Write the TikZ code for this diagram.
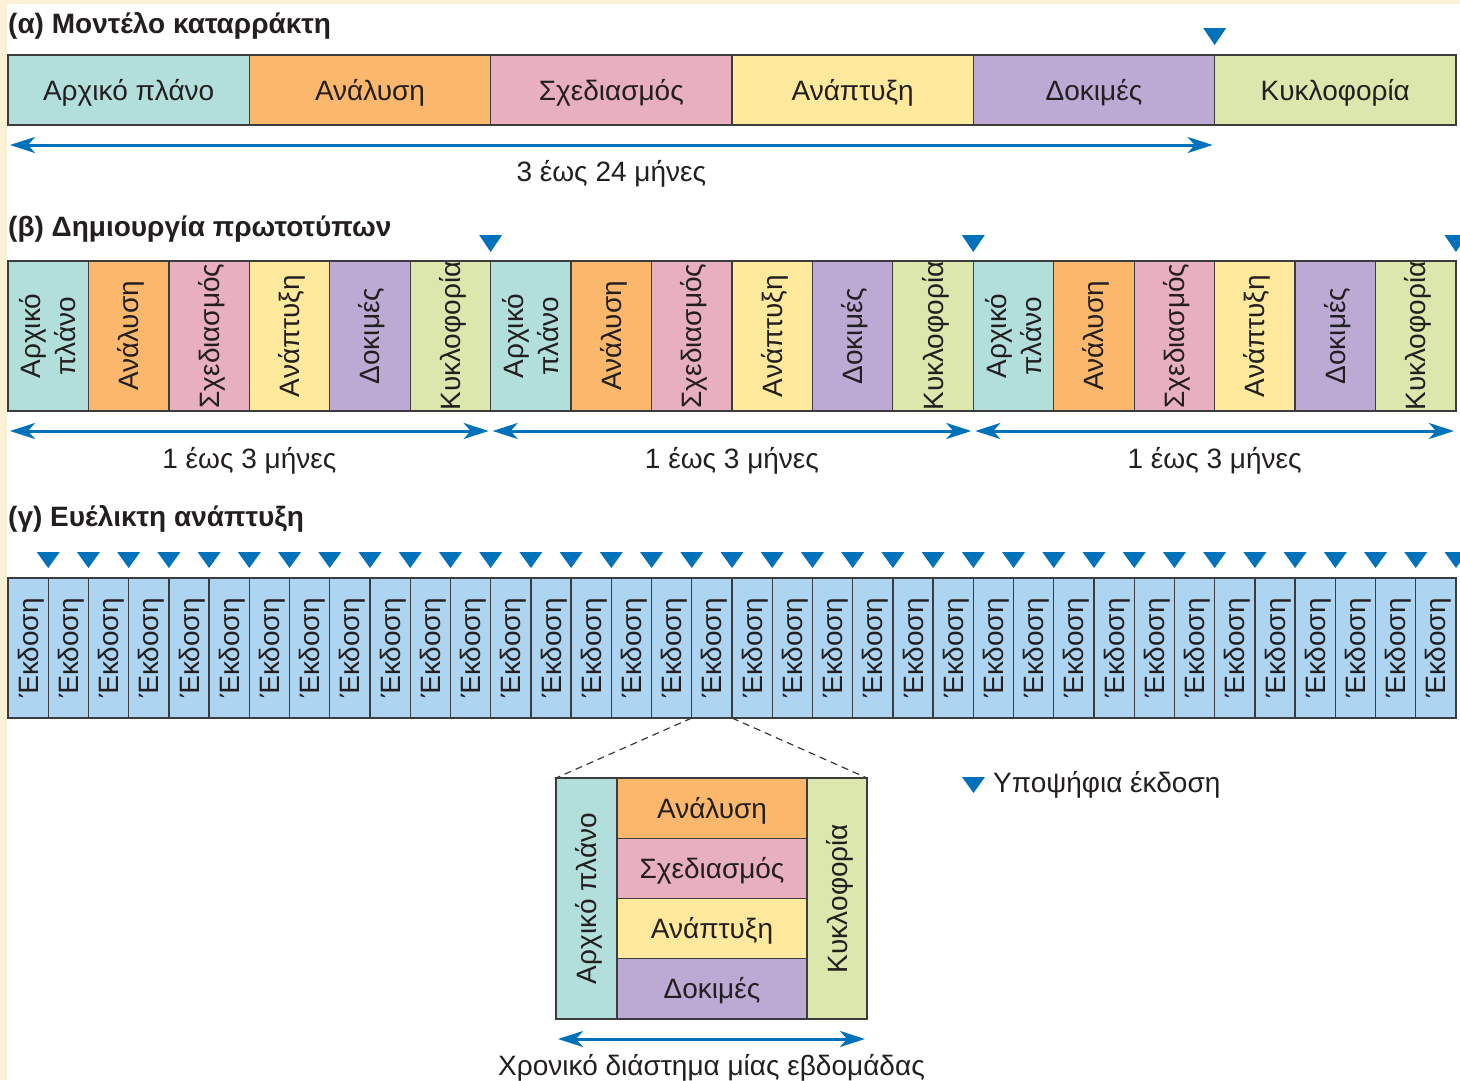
\documentclass[tikz,border=0pt]{standalone}
\usepackage{fontspec}
\setmainfont{Liberation Sans}
\usetikzlibrary{arrows.meta,calc}

\definecolor{paper}{HTML}{FBF1D5}
\definecolor{edge}{HTML}{3C3C3C}
\definecolor{ink}{HTML}{231F20}
\definecolor{cplan}{HTML}{B2DFDC}
\definecolor{cana}{HTML}{FBB86C}
\definecolor{cdes}{HTML}{E8AFBE}
\definecolor{cdev}{HTML}{FEE99C}
\definecolor{ctest}{HTML}{BCAAD5}
\definecolor{crel}{HTML}{DCE7AE}
\definecolor{crev}{HTML}{ADD5F1}
\definecolor{cblue}{HTML}{0072BC}

\tikzset{
  phase/.style={draw=edge, line width=1.3pt, inner sep=0pt, outer sep=0pt,
    anchor=north west, text=ink, font=\fontsize{28}{34}\selectfont,
    text height=20pt, text depth=0pt},
  vtext/.style={rotate=90, text=ink, font=\fontsize{28}{35}\selectfont,
    align=center, inner sep=0pt, text height=20pt, text depth=0pt},
  title/.style={anchor=base west, inner sep=0pt, text=ink,
    font=\fontsize{28}{32}\selectfont\bfseries},
  span/.style={draw=cblue, line width=3pt,
    {Stealth[length=25pt,width=16pt,inset=7pt]}-{Stealth[length=25pt,width=16pt,inset=7pt]}},
  spanlabel/.style={anchor=base, inner sep=0pt, text=ink,
    font=\fontsize{28}{34}\selectfont},
  release/.style={fill=cblue},
}

\begin{document}
\begin{tikzpicture}[x=1pt,y=-1pt]
\useasboundingbox (0,0) rectangle (1460,1080);
\fill[paper] (0,0) rectangle (1460,1080);
\fill[white] (7,4) rectangle (1460,1080);

% (a) waterfall
\node[title] (ta) at (8,33) {(α) Μοντέλο καταρράκτη};
\foreach \c/\t [count=\i from 0] in {cplan/Αρχικό πλάνο, cana/Ανάλυση, cdes/Σχεδιασμός, cdev/Ανάπτυξη, ctest/Δοκιμές, crel/Κυκλοφορία}
  \node[phase, fill=\c, minimum width=241.33pt, minimum height=70pt] (wf\i) at ({8+241.33*\i},55) {\t};
\fill[release] ($(wf4.north east)+(-11.5,-27)$) -- ++(23,0) -- ++(-11.5,17) -- cycle;
\draw[span] ($(wf0.south west)+(2,20)$) -- ($(wf4.south east)+(-2,20)$);
\node[spanlabel] (wfdur) at ($(wf0.south west)!0.5!(wf4.south east)+(0,56)$) {3 έως 24 μήνες};

% (b) prototyping
\node[title] (tb) at (8,236) {(β) Δημιουργία πρωτοτύπων};
\foreach \k in {0,1,2} {
  \foreach \c/\t/\h [count=\j from 0] in {cplan/{Αρχικό\\πλάνο}/55pt, cana/Ανάλυση/20pt, cdes/Σχεδιασμός/20pt, cdev/Ανάπτυξη/20pt, ctest/Δοκιμές/20pt, crel/Κυκλοφορία/20pt} {
    \pgfmathtruncatemacro\n{6*\k+\j}
    \node[phase, fill=\c, minimum width=80.44pt, minimum height=150pt] (pt\n) at ({8+80.44*\n},261) {};
    \node[vtext, text height=\h] (ptl\n) at (pt\n.center) {\t};
  }
  \pgfmathtruncatemacro\a{6*\k}
  \pgfmathtruncatemacro\b{6*\k+5}
  \fill[release] ($(pt\b.north east)+(-11.5,-26)$) -- ++(23,0) -- ++(-11.5,17) -- cycle;
  \draw[span] ($(pt\a.south west)+(2,20)$) -- ($(pt\b.south east)+(-2,20)$);
  \node[spanlabel] (ptdur\k) at ($(pt\a.south west)!0.5!(pt\b.south east)+(0,57)$) {1 έως 3 μήνες};
}

% (c) agile
\node[title] (tc) at (8,526) {(γ) Ευέλικτη ανάπτυξη};
\foreach \n in {0,...,35} {
  \node[phase, fill=crev, minimum width=40.222pt, minimum height=140pt] (ag\n) at ({8+40.222*\n},578) {};
  \node[vtext] (agl\n) at (ag\n.center) {Έκδοση};
  \fill[release] ($(ag\n.north east)+(-11.5,-26)$) -- ++(23,0) -- ++(-11.5,16) -- cycle;
}

% one-week iteration, zoomed
\node[phase, fill=cplan, minimum width=61pt, minimum height=241pt] (wk0) at (556,778) {};
\node[vtext] (wkl0) at (wk0.center) {Αρχικό πλάνο};
\foreach \c/\t [count=\j from 1] in {cana/Ανάλυση, cdes/Σχεδιασμός, cdev/Ανάπτυξη, ctest/Δοκιμές}
  \node[phase, fill=\c, minimum width=190pt, minimum height=60.25pt] (wk\j) at (617,{778+60.25*(\j-1)}) {\t};
\node[phase, fill=crel, minimum width=60pt, minimum height=241pt] (wk5) at (807,778) {};
\node[vtext] (wkl5) at (wk5.center) {Κυκλοφορία};

\draw[edge, line width=1.2pt, dash pattern=on 7pt off 5pt] (ag17.south west) -- (wk0.north west);
\draw[edge, line width=1.2pt, dash pattern=on 7pt off 5pt] (ag17.south east) -- (wk5.north east);

\draw[span] ($(wk0.south west)+(2,20)$) -- ($(wk5.south east)+(-2,20)$);
\node[spanlabel] (wkdur) at ($(wk0.south west)!0.5!(wk5.south east)+(0,56)$) {Χρονικό διάστημα μίας εβδομάδας};

% legend
\node[anchor=base west, inner sep=0pt, text=ink, font=\fontsize{28}{34}\selectfont] (legend) at (993,792) {Υποψήφια έκδοση};
\fill[release] ($(legend.base west)+(-31,-15)$) -- ++(23,0) -- ++(-11.5,16) -- cycle;
\end{tikzpicture}
\end{document}
